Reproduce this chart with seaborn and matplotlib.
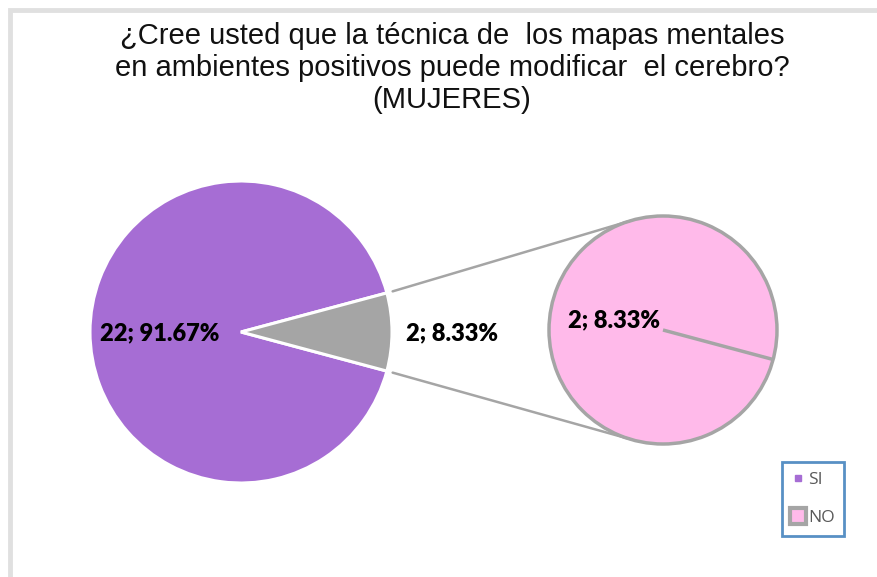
import numpy as np
import matplotlib
matplotlib.use("Agg")
import matplotlib.pyplot as plt
from matplotlib.lines import Line2D
import seaborn as sns

# ---- data ----
categories = ["SI", "NO"]
counts = [22, 2]
percents = ["91.67%", "8.33%"]
title_lines = ["¿Cree usted que la técnica de  los mapas mentales",
               "en ambientes positivos puede modificar  el cerebro?",
               "(MUJERES)"]

sns.set_theme(style="white")
plt.rcParams['font.family'] = ['Liberation Sans', 'DejaVu Sans']

W, H = 878, 577
fig = plt.figure(figsize=(W / 100, H / 100), dpi=100)
ax = fig.add_axes([0, 0, 1, 1])

purple = "#A66DD4"
gray = "#A5A5A5"
pink = "#FFBAEA"

def py(y):
    return H - y

# main pie
cx, cy, r = 241, py(332), 151
half = 360 * counts[1] / sum(counts) / 2
wedges, _ = ax.pie(counts, colors=[purple, gray], startangle=half, counterclock=True,
                   center=(cx, cy), radius=r, frame=True,
                   wedgeprops=dict(edgecolor="white", linewidth=2.2))

# secondary pie
sx, sy, sr = 663, py(330), 114
sec_start = -15
sw, _ = ax.pie([counts[1]], colors=[pink], startangle=sec_start, center=(sx, sy), radius=sr,
               frame=True, wedgeprops=dict(edgecolor=gray, linewidth=2.5))

ax.set_xlim(0, W)
ax.set_ylim(0, H)
ax.set_aspect('equal')
ax.axis('off')

# figure frame (light gray)
ax.plot([10, 10, W + 5], [py(H + 5), py(10), py(10)], color="#E0E0E0", lw=3.5,
        solid_capstyle='butt', solid_joinstyle='miter', zorder=0)

a0 = np.deg2rad(sec_start)
ax.plot([sx, sx + sr * np.cos(a0)], [sy, sy + sr * np.sin(a0)], color=gray, lw=2.5,
        solid_capstyle='butt', zorder=5)

# connectors
for ang_main, ang_sec in [(half, 107), (-half, 253)]:
    am, as_ = np.deg2rad(ang_main), np.deg2rad(ang_sec)
    rr = r + 6
    ax.plot([cx + rr * np.cos(am), sx + sr * np.cos(as_)],
            [cy + rr * np.sin(am), sy + sr * np.sin(as_)],
            color=gray, lw=1.8, zorder=1)

# labels
lab_font = dict(family=['Lato', 'DejaVu Sans'], fontweight='heavy', fontsize=17, color='black')
ax.text(160, py(333), f"{counts[0]}; {percents[0]}", ha='center', va='center', **lab_font)
ax.text(452, py(333), f"{counts[1]}; {percents[1]}", ha='center', va='center', **lab_font)
ax.text(614, py(320), f"{counts[1]}; {percents[1]}", ha='center', va='center', **lab_font)

# title
for i, line in enumerate(title_lines):
    ax.text(452, py(36 + 32 * i), line, ha='center', va='center', fontsize=21,
            color='#111111')

# legend
handles = [Line2D([], [], marker='s', linestyle='none', markersize=5,
                  markerfacecolor=purple, markeredgecolor=purple),
           Line2D([], [], marker='s', linestyle='none', markersize=12,
                  markerfacecolor=pink, markeredgecolor=gray, markeredgewidth=3)]
leg = fig.legend(handles, categories, loc='upper left',
                 bbox_to_anchor=(782 / W, 1 - 462 / H), borderaxespad=0,
                 frameon=True, fancybox=False, handlelength=0.8, handletextpad=0.15,
                 labelspacing=1.3, borderpad=0.55,
                 prop=dict(family=['Open Sans', 'DejaVu Sans'], size=12.5))
leg.get_frame().set_edgecolor("#2E75B6")
leg.get_frame().set_linewidth(2)
for t in leg.get_texts():
    t.set_color("#595959")

fig.savefig("out.png", dpi=100)
